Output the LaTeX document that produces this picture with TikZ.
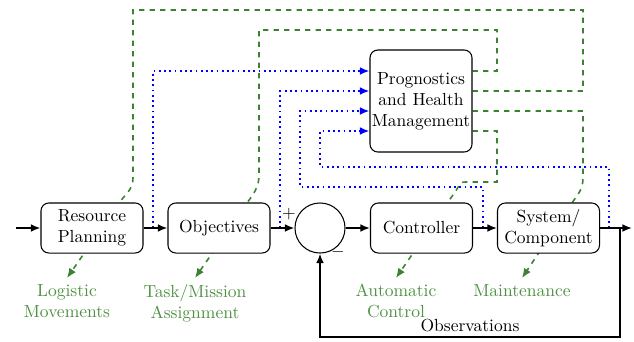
\documentclass[tikz,border=0pt]{standalone}
\usetikzlibrary{arrows.meta,backgrounds}
\definecolor{dgreen}{RGB}{60,130,50}
\definecolor{lgreen}{RGB}{78,145,66}
\begin{document}
\begin{tikzpicture}[x=0.5714pt,y=-0.5714pt,
 blk/.style={draw, line width=0.6pt, rounded corners=4.5pt, fill=white, minimum width=58.3pt, minimum height=28.6pt, align=center, inner sep=1pt},
 sig/.style={line width=1pt, -{Latex[length=5.5pt,width=4.5pt]}},
 info/.style={blue, line width=1pt, dash pattern=on 1pt off 2pt, -{Latex[length=5.5pt,width=4.5pt]}},
 act/.style={dgreen, line width=0.9pt, dash pattern=on 3pt off 3pt, -{Latex[length=5.5pt,width=4.5pt]}},
 lab/.style={text=lgreen, align=center, anchor=north}]
\useasboundingbox (0,0) rectangle (634,341);
% blocks
\node[blk] (rp) at (92,228) {Resource\\Planning};
\node[blk] (obj) at (219,228) {Objectives};
\node[circle, draw, line width=0.6pt, minimum size=28.6pt, inner sep=0pt, fill=white] (sum) at (320,228) {};
\node[blk] (ctrl) at (421.5,228) {Controller};
\node[blk] (sys) at (548.5,228) {System/\\Component};
\node[blk, minimum height=58.3pt] (phm) at (421,101) {Prognostics\\and Health\\Management};
\node (plus) at (289,214) {$+$};
\node (minus) at (338,252) {$-$};
% labels
\node[lab] (lm) at (67,278) {Logistic\\Movements};
\node[lab] (tm) at (195,278) {Task/Mission\\Assignment};
\node[lab] (ac) at (396,278) {Automatic\\Control};
\node[lab] (mt) at (522,278) {Maintenance};
% coordinates
\coordinate (in) at (16,228);
\coordinate (out) at (632,228);
\coordinate (fb) at (620,228);
\coordinate (b1) at (153,228);
\coordinate (b2) at (280,228);
\coordinate (b3) at (483,228);
\coordinate (b4) at (609,228);
\coordinate (pi1) at ([shift={(0,-30)}]phm.west);
\coordinate (pi2) at ([shift={(0,-10)}]phm.west);
\coordinate (pi3) at ([shift={(0,10)}]phm.west);
\coordinate (pi4) at ([shift={(0,30)}]phm.west);
\coordinate (po1) at ([shift={(0,-30)}]phm.east);
\coordinate (po2) at ([shift={(0,-10)}]phm.east);
\coordinate (po3) at ([shift={(0,10)}]phm.east);
\coordinate (po4) at ([shift={(0,30)}]phm.east);
% main signal path
\draw[sig] (in) -- (rp);
\draw[sig] (rp) -- (obj);
\draw[sig] (obj) -- (sum);
\draw[sig] (sum) -- (ctrl);
\draw[sig] (ctrl) -- (sys);
\draw[sig] (sys) -- (out);
\draw[sig] (fb) -- (620,337) -| (sum.south);
\node (obs) at (470,326) {Observations};
\begin{scope}[on background layer]
% information (blue)
\draw[info] (b1) |- (pi1);
\draw[info] (b2) |- (pi2);
\draw[info] (b3) -- (483,187) -| (300,111) -- (pi3);
\draw[info] (b4) -- (609,167) -| (320,131) -- (pi4);
% actions (green)
\draw[act] (po1) -- (497,71) -- (497,30) -- (259,30) -- (259,175) .. controls (259,188) and (252.6,195) .. (247,203) -- (tm.north);
\draw[act] (po2) -- (583,91) -- (583,10) -- (133,10) -- (133,178) .. controls (133,190) and (124.5,195) .. (119,203) -- (lm.north);
\draw[act] (po3) -- (583,111) -- (583,178) .. controls (583,190) and (577,195) .. (572,203) -- (mt.north);
\draw[act] (po4) -- (497,131) -- (497,182) -- (466,182) .. controls (461,182) .. (457,189) -- (ac.north);
\end{scope}
\end{tikzpicture}
\end{document}
